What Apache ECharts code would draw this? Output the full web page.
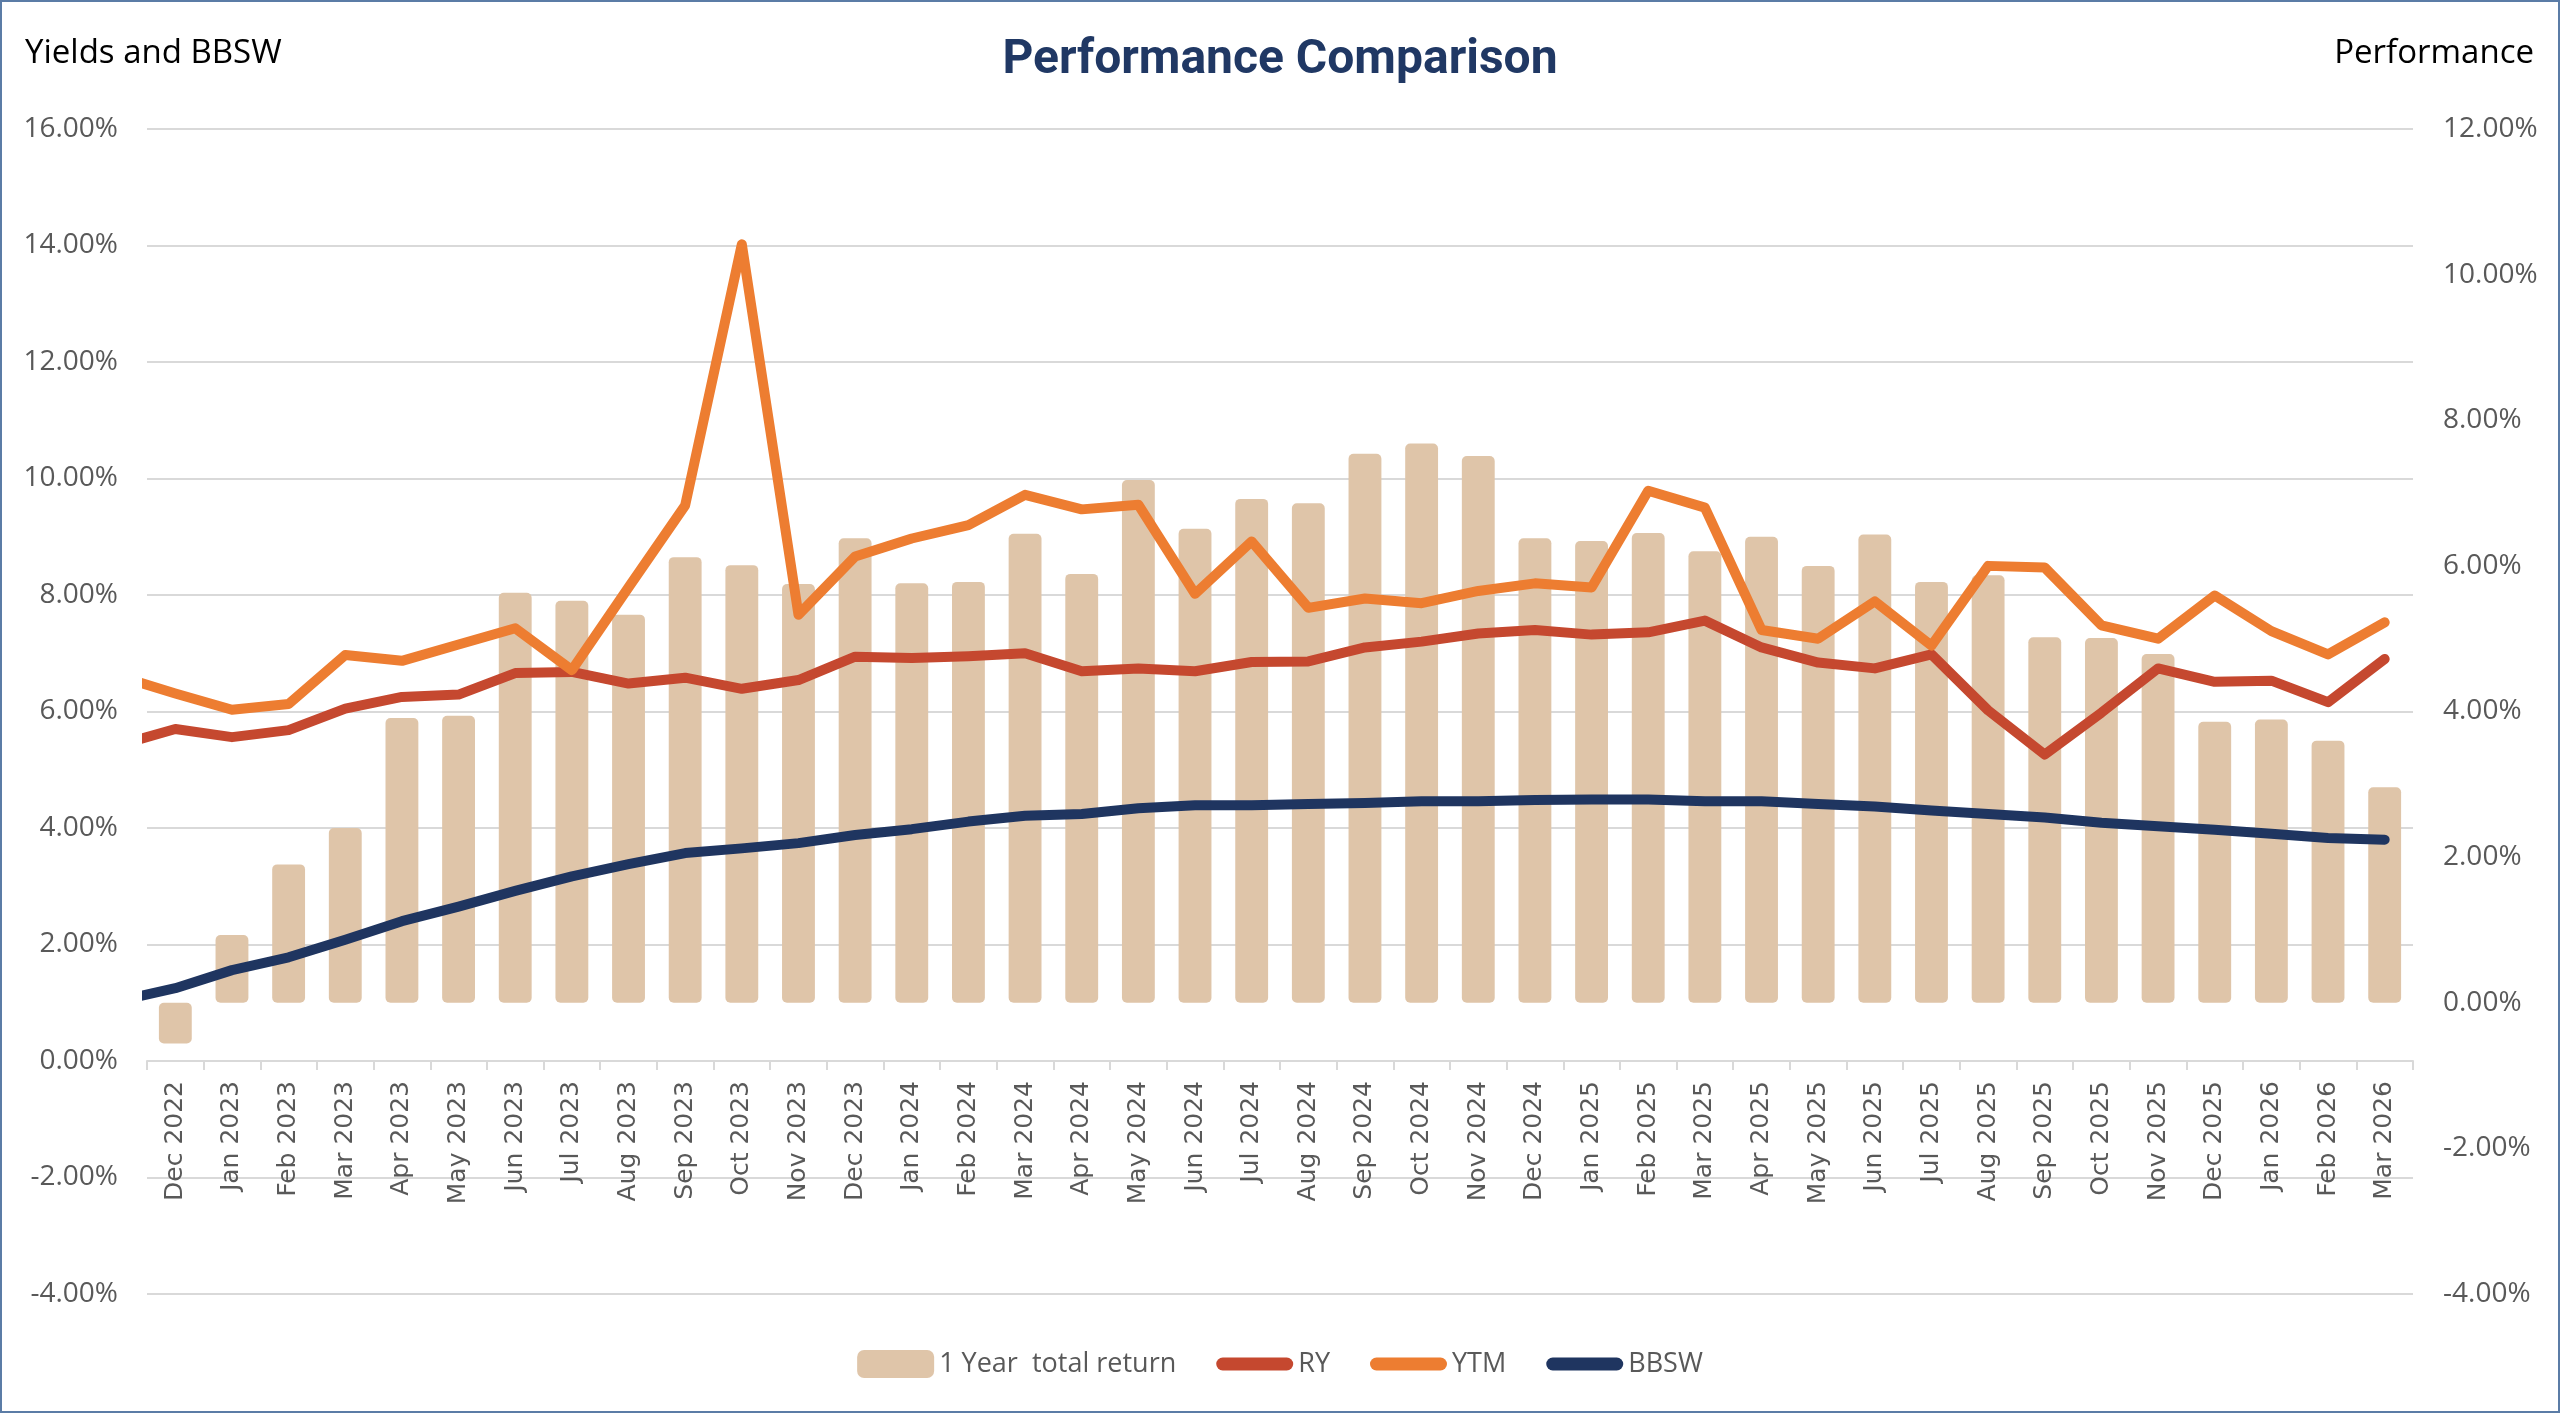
<!DOCTYPE html>
<html><head><meta charset="utf-8">
<script src="https://cdn.jsdelivr.net/npm/echarts@6/dist/echarts.min.js"></script>
<style>html,body{margin:0;padding:0;background:#fff;} #c{width:2560px;height:1413px;}</style>
</head><body><div id="c"></div>
<script>
const categories = ['Dec 2022','Jan 2023','Feb 2023','Mar 2023','Apr 2023','May 2023','Jun 2023','Jul 2023','Aug 2023','Sep 2023','Oct 2023','Nov 2023','Dec 2023','Jan 2024','Feb 2024','Mar 2024','Apr 2024','May 2024','Jun 2024','Jul 2024','Aug 2024','Sep 2024','Oct 2024','Nov 2024','Dec 2024','Jan 2025','Feb 2025','Mar 2025','Apr 2025','May 2025','Jun 2025','Jul 2025','Aug 2025','Sep 2025','Oct 2025','Nov 2025','Dec 2025','Jan 2026','Feb 2026','Mar 2026'];
const totalReturn = [-0.56,0.93,1.90,2.40,3.91,3.94,5.63,5.52,5.33,6.12,6.01,5.75,6.38,5.76,5.78,6.44,5.89,7.18,6.51,6.92,6.86,7.54,7.68,7.51,6.38,6.34,6.45,6.20,6.40,6.00,6.43,5.78,5.87,5.02,5.01,4.79,3.86,3.89,3.60,2.96];
const ry = [5.70,5.56,5.68,6.05,6.25,6.29,6.66,6.68,6.48,6.58,6.39,6.54,6.94,6.92,6.95,7.00,6.69,6.74,6.69,6.85,6.86,7.10,7.20,7.34,7.40,7.32,7.36,7.56,7.10,6.84,6.74,6.98,6.02,5.26,5.98,6.74,6.51,6.53,6.16,6.90];
const ytm = [6.31,6.03,6.13,6.97,6.87,7.15,7.43,6.71,8.13,9.54,14.02,7.66,8.66,8.97,9.20,9.72,9.47,9.55,8.02,8.92,7.78,7.94,7.86,8.07,8.20,8.13,9.79,9.50,7.40,7.25,7.89,7.13,8.50,8.47,7.48,7.25,7.99,7.38,6.98,7.53];
const bbsw = [1.25,1.56,1.78,2.08,2.40,2.65,2.92,3.17,3.38,3.57,3.65,3.74,3.88,3.98,4.11,4.21,4.24,4.34,4.39,4.39,4.41,4.43,4.46,4.46,4.48,4.49,4.49,4.46,4.46,4.41,4.37,4.30,4.24,4.18,4.09,4.03,3.97,3.90,3.83,3.80];
// values of the month before the first category (Nov 2022): only the clipped segment at the left edge is visible
const priorRY = 5.42, priorYTM = 6.61, priorBBSW = 1.03;
const leftAxisTicks = {min: -4, max: 16, interval: 2};
const rightAxisTicks = {min: -4, max: 12, interval: 2};

function lineData(prior, arr) {
  return [[-0.5, prior]].concat(arr.map((v, i) => [i + 0.5, v]));
}
const pct = v => v.toFixed(2) + '%';
const grey = '#595959';
const gridColor = '#d9d9d9';
const barColor = '#dfc5a9';
const W = 2560, H = 1413;
const G = {left: 147, right: 147, top: 129, bottom: 119};
const plotH = H - G.top - G.bottom;
// secondary grid whose bottom edge sits on the 0% level of the left axis (category axis position)
const zeroGridH = plotH * (leftAxisTicks.max - 0) / (leftAxisTicks.max - leftAxisTicks.min);
const capsule = 'path://M6.5,0H70.5A6.5,6.5,0,0,1,70.5,13H6.5A6.5,6.5,0,0,1,6.5,0Z';

const chart = echarts.init(document.getElementById('c'), null, {renderer: 'canvas', devicePixelRatio: 1});
const lineSeries = (name, prior, arr, color) => ({
  name, type: 'line', xAxisIndex: 1, yAxisIndex: 0, data: lineData(prior, arr),
  symbol: 'none', showSymbol: false, clip: true, z: 3,
  lineStyle: {width: 10, color, cap: 'round', join: 'round'},
  itemStyle: {color}
});
chart.setOption({
  animation: false,
  backgroundColor: '#fff',
  graphic: [{type: 'rect', shape: {x: 1, y: 1, width: W - 2, height: H - 2}, style: {fill: 'none', stroke: '#5b7ca6', lineWidth: 2}, silent: true}],
  title: [
    {text: 'Performance Comparison', left: 'center', top: 37, padding: 0,
     textStyle: {fontFamily: 'Roboto', fontWeight: 'bold', fontSize: 48, color: '#203864'}},
    {text: 'Yields and BBSW', left: 25, top: 37, padding: 0,
     textStyle: {fontFamily: 'Open Sans', fontWeight: 'normal', fontSize: 33, color: '#000'}},
    {text: 'Performance', right: 26, top: 37, padding: 0,
     textStyle: {fontFamily: 'Open Sans', fontWeight: 'normal', fontSize: 33, color: '#000'}}
  ],
  legend: {
    top: 1350, left: 'center', itemWidth: 77, itemHeight: 28, itemGap: 40, padding: 0,
    textStyle: {fontFamily: 'Open Sans', fontSize: 27, color: grey},
    data: [{name: '1 Year  total return', icon: 'roundRect'},
           {name: 'RY', icon: capsule}, {name: 'YTM', icon: capsule}, {name: 'BBSW', icon: capsule}]
  },
  grid: [
    {left: G.left, right: G.right, top: G.top, bottom: G.bottom, containLabel: false, outerBoundsMode: 'none'},
    {left: G.left, right: G.right, top: G.top, height: zeroGridH, containLabel: false, outerBoundsMode: 'none'}
  ],
  xAxis: [
    {type: 'category', gridIndex: 0, data: categories, boundaryGap: true, show: false},
    {type: 'value', gridIndex: 0, min: 0, max: categories.length, show: false},
    {type: 'category', gridIndex: 1, data: categories, boundaryGap: true, position: 'bottom',
     axisLine: {show: true, onZero: false, lineStyle: {color: gridColor, width: 2}},
     axisTick: {show: true, interval: 0, length: 9, lineStyle: {color: gridColor, width: 2}},
     axisLabel: {interval: 0, rotate: 90, margin: 20, fontFamily: 'DejaVu Sans', fontSize: 25, color: grey},
     splitLine: {show: false}}
  ],
  yAxis: [
    {type: 'value', gridIndex: 0, position: 'left', min: leftAxisTicks.min, max: leftAxisTicks.max, interval: leftAxisTicks.interval,
     axisLine: {show: false}, axisTick: {show: false},
     axisLabel: {formatter: pct, margin: 29, fontFamily: 'Open Sans', fontSize: 28, color: grey},
     splitLine: {show: true, lineStyle: {color: gridColor, width: 2}}},
    {type: 'value', gridIndex: 0, position: 'right', min: rightAxisTicks.min, max: rightAxisTicks.max, interval: rightAxisTicks.interval,
     axisLine: {show: false}, axisTick: {show: false},
     axisLabel: {formatter: pct, margin: 30, fontFamily: 'Open Sans', fontSize: 28, color: grey},
     splitLine: {show: false}},
    {type: 'value', gridIndex: 1, min: 0, max: 1, show: false}
  ],
  series: [
    {name: '1 Year  total return', type: 'bar', xAxisIndex: 0, yAxisIndex: 1, data: totalReturn,
     barWidth: '58%', z: 1, itemStyle: {color: barColor, borderRadius: 5}},
    lineSeries('RY', priorRY, ry, '#c5482f'),
    lineSeries('YTM', priorYTM, ytm, '#ed7d31'),
    lineSeries('BBSW', priorBBSW, bbsw, '#1f3560')
  ]
});
</script></body></html>
